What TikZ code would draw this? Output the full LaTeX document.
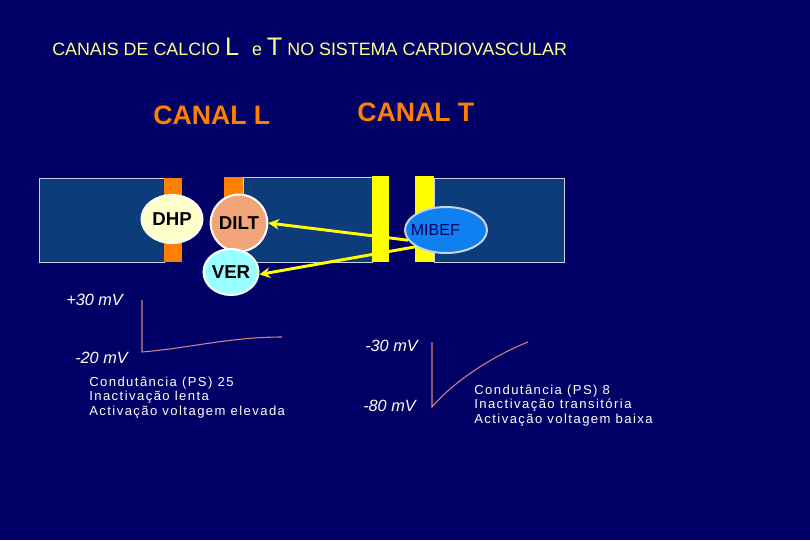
\documentclass[tikz,border=0pt]{standalone}
\usepackage{fontspec}
\setmainfont{Liberation Sans}
\usetikzlibrary{positioning,shapes.geometric,arrows.meta}

\definecolor{fundo}{RGB}{0,0,102}
\definecolor{membrana}{RGB}{12,60,122}
\definecolor{contorno}{RGB}{200,210,230}
\definecolor{laranja}{RGB}{255,128,0}
\definecolor{amarelo}{RGB}{255,255,0}
\definecolor{titulo}{RGB}{255,255,140}
\definecolor{creme}{RGB}{255,255,204}
\definecolor{pessego}{RGB}{242,165,120}
\definecolor{ciano}{RGB}{153,255,255}
\definecolor{azul}{RGB}{16,128,240}
\definecolor{curva}{RGB}{210,130,130}

\tikzset{
    droga/.style={ellipse, draw=white, line width=1.5pt, inner sep=0pt, font=\fontsize{14}{14}\selectfont\bfseries},
    seta/.style={-{Stealth[length=8pt,width=8pt]}, draw=amarelo, line width=2.2pt},
    mv/.style={anchor=base west, text=white, inner sep=0pt, font=\fontsize{12.2}{12}\selectfont\itshape},
    texto/.style={anchor=base west, text=white, inner sep=0pt, font=\fontsize{9.8}{10}\selectfont\addfontfeatures{LetterSpace=11}},
    canal/.style={anchor=base west, text=laranja, inner sep=0pt, font=\fontsize{20}{20}\selectfont\bfseries}
}

\begin{document}
\begin{tikzpicture}[x=0.75pt,y=-0.75pt]
        \fill[fundo] (0,0) rectangle (810,540);
        \useasboundingbox (0,0) rectangle (810,540);

        % titulos
        \node[anchor=base west, text=titulo, inner sep=0pt, font=\fontsize{13.4}{14}\selectfont](titulo) at (52,55)
            {CANAIS DE CALCIO {\fontsize{19}{20}\selectfont L} \, e {\fontsize{19}{20}\selectfont T} NO SISTEMA CARDIOVASCULAR};
        \node[canal](canalL) at (153,124) {CANAL L};
        \node[canal](canalT) at (357,121) {CANAL T};

        % membrana
        \draw[contorno, fill=membrana] (39,178) rectangle (164,262);
        \draw[contorno, fill=membrana] (243,177) rectangle (372,262);
        \draw[contorno, fill=membrana] (434,178) rectangle (564,262);
        \fill[laranja] (164,178) rectangle (182,262);
        \fill[laranja] (224,177) rectangle (243,258);
        \fill[amarelo] (372,176) rectangle (389,262);
        \fill[amarelo] (415,176) rectangle (434,262);

        % farmacos
        \node[droga, fill=creme, minimum width=45.75pt, minimum height=36pt](dhp) at (172,219) {DHP};
        \node[droga, fill=pessego, minimum width=41.25pt, minimum height=42.75pt](dilt) at (239,223) {DILT};
        \node[droga, fill=ciano, minimum width=41.25pt, minimum height=34.5pt](ver) at (231,272) {VER};
        \node[droga, fill=azul, draw=contorno, minimum width=61.5pt, minimum height=34.5pt,
              label={[text=fundo, font=\fontsize{12}{12}\selectfont, xshift=-8pt]center:MIBEF}](mibef) at (446,230) {};

        \draw[seta] (mibef.195) -- (dilt.east);
        \draw[seta] (mibef.209) -- (ver.-5);

        % canal L
        \node[mv](mvLa) at (66,305) {+30 mV};
        \node[mv](mvLb) at (75,363) {-20 mV};
        \draw[curva, line width=0.8pt] (142,300) -- (142,352) .. controls (190,348) and (230,337) .. (282,337);
        \node[texto](condL) at (89,386) {Condutância (PS) 25};
        \node[texto](inacL) at (89,400.5) {Inactivação lenta};
        \node[texto](activL) at (89,415) {Activação voltagem elevada};

        % canal T
        \node[mv](mvTa) at (365,351) {-30 mV};
        \node[mv](mvTb) at (363,411) {-80 mV};
        \draw[curva, line width=0.8pt] (432,342) -- (432,407) .. controls (455,380) and (495,355) .. (528,342);
        \node[texto](condT) at (474,394) {Condutância (PS) 8};
        \node[texto](inacT) at (474,408.5) {Inactivação transitória};
        \node[texto](activT) at (474,423) {Activação voltagem baixa};
    \end{tikzpicture}
\end{document}
